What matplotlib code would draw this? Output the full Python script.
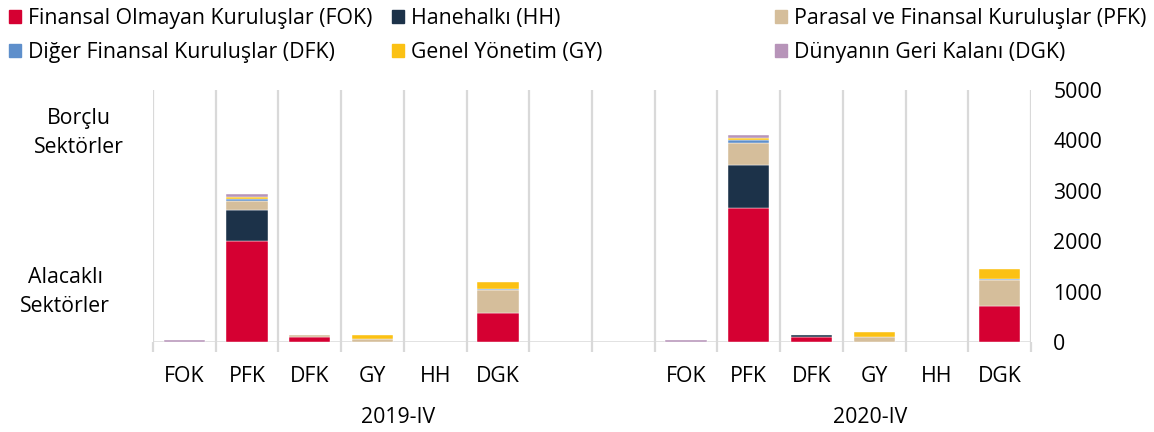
import numpy as np
import matplotlib.pyplot as plt
from matplotlib.patches import Patch
from matplotlib.transforms import blended_transform_factory

plt.rcParams['font.family'] = ['Open Sans', 'DejaVu Sans']

# categories on the x axis (sector whose liabilities / assets are shown)
sectors = ['FOK', 'PFK', 'DFK', 'GY', 'HH', 'DGK']
periods = ['2019-IV', '2020-IV']

series_names = ['Finansal Olmayan Kuruluşlar (FOK)', 'Hanehalkı (HH)',
                'Parasal ve Finansal Kuruluşlar (PFK)', 'Diğer Finansal Kuruluşlar (DFK)',
                'Genel Yönetim (GY)', 'Dünyanın Geri Kalanı (DGK)']
colors = ['#D50032', '#1C3249', '#D5BE9B', '#5E8FCB', '#FBC114', '#B794B9']

# values, one list per stacked series, per period
fok_2019 = [0, 2010, 93, 0, 0, 583]
hh_2019 = [0, 617, 0, 0, 0, 0]
pfk_2019 = [0, 165, 45, 50, 0, 442]
dfk_2019 = [0, 46, 0, 0, 0, 34]
gy_2019 = [0, 47, 0, 90, 0, 125]
dgk_2019 = [40, 45, 0, 0, 0, 0]

fok_2020 = [0, 2659, 106, 0, 0, 714]
hh_2020 = [0, 861, 40, 0, 0, 0]
pfk_2020 = [0, 422, 0, 106, 0, 516]
dfk_2020 = [0, 66, 0, 0, 0, 28]
gy_2020 = [0, 47, 0, 86, 0, 184]
dgk_2020 = [46, 60, 0, 0, 0, 0]

data = {
    '2019-IV': [fok_2019, hh_2019, pfk_2019, dfk_2019, gy_2019, dgk_2019],
    '2020-IV': [fok_2020, hh_2020, pfk_2020, dfk_2020, gy_2020, dgk_2020],
}

yticks = [0, 1000, 2000, 3000, 4000, 5000]

FS = 15.3

fig = plt.figure(figsize=(11.54, 4.32), dpi=100)
ax = fig.add_axes([153 / 1154, 90 / 432, 878 / 1154, 252 / 432])

grid_col = '#D9D9D9'
n_slot = 14
offsets = {'2019-IV': 0, '2020-IV': 8}

xt, xl = [], []
for p in periods:
    x = np.arange(len(sectors)) + offsets[p]
    bottom = np.zeros(len(sectors))
    for vals, c in zip(data[p], colors):
        vals = np.array(vals, dtype=float)
        h = np.where(vals > 0, vals, np.nan)  # skip empty segments
        ax.bar(x, h, width=0.66, bottom=bottom, color=c,
               edgecolor='white', linewidth=0.3, zorder=3)
        bottom += vals
    xt += list(x)
    xl += sectors

# vertical separators between categories
bounds = np.arange(n_slot + 1) - 0.5
for b in bounds:
    ax.axvline(b, color=grid_col, lw=1.6, zorder=1)
ax.axhline(0, color=grid_col, lw=1.8, zorder=2)

ax.set_xlim(-0.5, n_slot - 0.5)
ax.set_ylim(0, 5000)
ax.set_xticks(xt)
ax.set_xticklabels(xl, fontsize=FS)
ax.set_xticks(bounds, minor=True)
ax.tick_params(axis='x', which='major', length=0, pad=17)
ax.tick_params(axis='x', which='minor', length=7, width=1.6, color=grid_col)

ax.yaxis.tick_right()
ax.set_yticks(yticks)
ax.set_yticklabels([str(v) for v in yticks], fontsize=FS)
ax.tick_params(axis='y', length=0, pad=16)
for s in ax.spines.values():
    s.set_visible(False)

tr = blended_transform_factory(ax.transData, ax.transAxes)
ax.text(3.4, -0.30, '2019-IV', transform=tr, ha='center', va='center', fontsize=FS)
ax.text(10.94, -0.30, '2020-IV', transform=tr, ha='center', va='center', fontsize=FS)

fig.text(79 / 1154, 1 - 133 / 432, 'Borçlu\nSektörler', ha='center', va='center',
         fontsize=FS, linespacing=1.5)
fig.text(65 / 1154, 1 - 292 / 432, 'Alacaklı\nSektörler', ha='center', va='center',
         fontsize=FS, linespacing=1.5)

# legend: three columns, two rows (row-wise order as in the original)
handles = [Patch(color=c) for c in colors]
cols = [(0, 3), (1, 4), (2, 5)]
xs = [9, 392, 775]
for (i, j), x0 in zip(cols, xs):
    fig.legend([handles[i], handles[j]], [series_names[i], series_names[j]],
               loc='upper left', bbox_to_anchor=(x0 / 1154, 1 - 8 / 432),
               frameon=False, fontsize=FS, borderpad=0, borderaxespad=0,
               handlelength=0.55, handleheight=0.55, handletextpad=0.35,
               labelspacing=0.6)

fig.savefig('out.png', dpi=100)
